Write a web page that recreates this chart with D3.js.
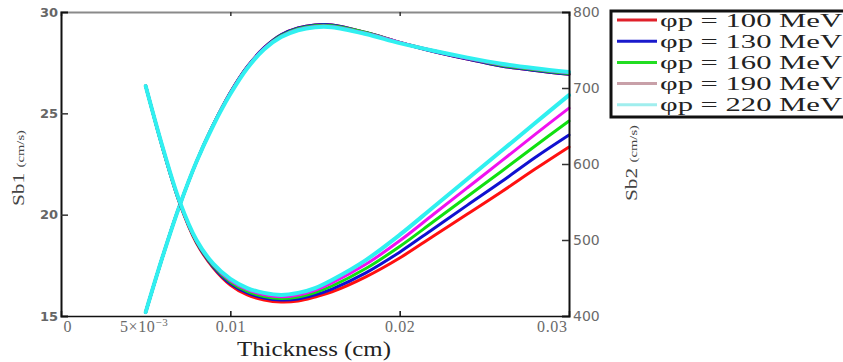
<!DOCTYPE html>
<html>
<head>
<meta charset="utf-8">
<script src="https://cdn.jsdelivr.net/npm/d3@7"></script>
<style>
  body { margin: 0; background: #fff; }
  svg { display: block; }
</style>
</head>
<body>
<div id="chart"></div>
<script>
// thickness grid (cm)
const thickness = [0.005, 0.006, 0.007, 0.008, 0.009, 0.010, 0.011, 0.012, 0.013, 0.014,
  0.015, 0.016, 0.018, 0.020, 0.022, 0.024, 0.026, 0.028, 0.030];

const energies = [100, 130, 160, 190, 220];
const colors = ['#ff1010', '#1010d0', '#10e010', '#f010f0', '#30f0f0'];
const legendColors = ['#e0202a', '#1a1acc', '#22dd22', '#c8a0a8', '#a0eeee'];

// Sb1 (left axis, cm/s)
const sb1_100 = [26.35, 23.29, 20.58, 18.60, 17.37, 16.53, 16.04, 15.79, 15.69, 15.74, 15.94, 16.19, 16.93, 17.86, 18.95, 20.03, 21.12, 22.25, 23.34];
const sb1_130 = [26.35, 23.29, 20.60, 18.65, 17.42, 16.60, 16.14, 15.89, 15.79, 15.84, 16.04, 16.33, 17.13, 18.15, 19.31, 20.47, 21.62, 22.82, 23.93];
const sb1_160 = [26.35, 23.31, 20.63, 18.68, 17.47, 16.68, 16.21, 15.96, 15.86, 15.94, 16.16, 16.48, 17.34, 18.43, 19.66, 20.90, 22.13, 23.39, 24.62];
const sb1_190 = [26.35, 23.34, 20.65, 18.71, 17.52, 16.75, 16.30, 16.05, 15.95, 16.04, 16.27, 16.63, 17.55, 18.71, 20.02, 21.33, 22.64, 23.96, 25.26];
const sb1_220 = [26.35, 23.34, 20.67, 18.75, 17.57, 16.83, 16.38, 16.14, 16.04, 16.14, 16.38, 16.78, 17.76, 19.00, 20.38, 21.76, 23.14, 24.52, 25.90];

// Sb2 (right axis, cm/s)
const sb2_100 = [405, 478, 545, 603, 652, 694, 728, 753, 770, 779, 783, 783, 773, 760, 748, 738, 729, 723, 718];
const sb2_130 = [405, 478, 545, 603, 652, 694, 728, 753, 770, 779, 783, 783, 773, 760, 748, 738, 729, 723, 718];
const sb2_160 = [405, 478, 545, 603, 652, 693, 727, 752, 769, 778, 782, 782, 773, 760, 749, 739, 730, 724, 719];
const sb2_190 = [405, 478, 545, 603, 652, 693, 727, 752, 768, 777, 781, 781, 772, 760, 749, 739, 731, 725, 720];
const sb2_220 = [405, 478, 545, 603, 651, 692, 726, 751, 767, 776, 780, 780, 771, 759, 749, 740, 732, 726, 721];

const sb1Series = [sb1_100, sb1_130, sb1_160, sb1_190, sb1_220];
const sb2Series = [sb2_100, sb2_130, sb2_160, sb2_190, sb2_220];

const xTicks = [0, 0.005, 0.01, 0.02, 0.03];
const yLeftTicks = [15, 20, 25, 30];
const yRightTicks = [400, 500, 600, 700, 800];

const W = 843, H = 362;
const margin = { top: 12, right: 274, bottom: 46, left: 61 };

const svg = d3.select('#chart').append('svg')
  .attr('width', W)
  .attr('height', H);

const x = d3.scaleLinear().domain([0, 0.03]).range([margin.left, W - margin.right]);
const yL = d3.scaleLinear().domain([15, 30]).range([H - margin.bottom, margin.top]);
const yR = d3.scaleLinear().domain([400, 800]).range([H - margin.bottom, margin.top]);

// curves
const lineL = d3.line()
  .x((d, i) => x(thickness[i]))
  .y(d => yL(d))
  .curve(d3.curveCatmullRom.alpha(0.5));
const lineR = d3.line()
  .x((d, i) => x(thickness[i]))
  .y(d => yR(d))
  .curve(d3.curveCatmullRom.alpha(0.5));

const curves = svg.append('g').attr('fill', 'none').attr('stroke-linecap', 'round');
sb2Series.forEach((s, i) => {
  curves.append('path')
    .attr('d', lineR(s))
    .attr('stroke', colors[i])
    .attr('stroke-width', i === 4 ? 4 : 3);
});
sb1Series.forEach((s, i) => {
  curves.append('path')
    .attr('d', lineL(s))
    .attr('stroke', colors[i])
    .attr('stroke-width', i === 4 ? 4 : 3);
});

// top border
const topAxis = svg.append('g')
  .attr('transform', 'translate(0,' + margin.top + ')')
  .call(d3.axisTop(x).tickValues([0.01, 0.02]).tickSize(-4).tickFormat(''));
topAxis.select('.domain').attr('stroke', '#8a8a8a').attr('stroke-width', 2);
topAxis.selectAll('.tick line').attr('stroke', '#333').attr('stroke-width', 1.5);

// bottom axis
const fmtX = d => d === 0 ? '0' : (d === 0.005 ? '' : d3.format('.2f')(d));
const xAxis = svg.append('g')
  .attr('transform', 'translate(0,' + (H - margin.bottom) + ')')
  .call(d3.axisBottom(x).tickValues(xTicks).tickSize(-5).tickPadding(5).tickFormat(fmtX));
xAxis.select('.domain').attr('stroke', '#111').attr('stroke-width', 1.5);
xAxis.selectAll('.tick line')
  .attr('stroke', '#111').attr('stroke-width', 1.5)
  .attr('opacity', d => (d === 0 || d === 0.005 || d === 0.03) ? 0 : 1);
xAxis.selectAll('.tick text')
  .attr('font-family', '"Liberation Serif", serif')
  .attr('font-size', 16)
  .attr('letter-spacing', 0.6)
  .attr('fill', '#6a6a6a')
  .attr('text-anchor', d => d === 0 ? 'start' : (d === 0.03 ? 'end' : 'middle'))
  .attr('x', d => d === 0 ? 2 : (d === 0.03 ? -2 : 0));
// 5x10^-3 label with a real superscript
const sciTick = xAxis.selectAll('.tick').filter(d => d === 0.005).select('text')
  .attr('x', -2);
sciTick.append('tspan').text('5×10');
sciTick.append('tspan').attr('font-size', 11).attr('dy', -6).text('−3');

// left axis
const yAxisL = svg.append('g')
  .attr('transform', 'translate(' + margin.left + ',0)')
  .call(d3.axisLeft(yL).tickValues(yLeftTicks).tickSize(-7).tickPadding(3));
yAxisL.select('.domain').attr('stroke', '#111').attr('stroke-width', 2);
yAxisL.selectAll('.tick line').attr('stroke', '#333').attr('stroke-width', 1.5)
  .attr('opacity', d => (d === 15 || d === 30) ? 0 : 1);
yAxisL.selectAll('.tick text')
  .attr('font-family', '"DejaVu Sans", sans-serif')
  .attr('font-size', 13)
  .attr('font-weight', 'bold')
  .attr('fill', '#666');

// right axis
const yAxisR = svg.append('g')
  .attr('transform', 'translate(' + (W - margin.right) + ',0)')
  .call(d3.axisRight(yR).tickValues(yRightTicks).tickSize(-7).tickPadding(4));
yAxisR.select('.domain').attr('stroke', '#111').attr('stroke-width', 2);
yAxisR.selectAll('.tick line').attr('stroke', '#333').attr('stroke-width', 1.5)
  .attr('opacity', d => (d === 400 || d === 800) ? 0 : 1);
yAxisR.selectAll('.tick text')
  .attr('font-family', '"DejaVu Sans", sans-serif')
  .attr('font-size', 14)
  .attr('fill', '#6a6a6a');

svg.selectAll('.domain').attr('fill', 'none');

// axis titles
svg.append('text')
  .attr('x', 314)
  .attr('y', 356)
  .attr('text-anchor', 'middle')
  .attr('font-family', '"Liberation Serif", serif')
  .attr('font-size', 20)
  .attr('fill', '#222')
  .attr('textLength', 154)
  .attr('lengthAdjust', 'spacingAndGlyphs')
  .text('Thickness (cm)');

function yTitle(cx, cy, label) {
  const t = svg.append('text')
    .attr('transform', 'translate(' + cx + ',' + cy + ') rotate(-90)')
    .attr('text-anchor', 'middle')
    .attr('font-family', '"Liberation Serif", serif')
    .attr('fill', '#444')
    .attr('textLength', 76)
    .attr('lengthAdjust', 'spacingAndGlyphs');
  t.append('tspan').attr('font-size', 16).text(label + ' ');
  t.append('tspan').attr('font-size', 11).text('(cm/s)');
}
yTitle(24, 168, 'Sb1');
yTitle(637, 163, 'Sb2');

// legend
const legend = svg.append('g');
legend.append('rect')
  .attr('x', 611).attr('y', 11)
  .attr('width', 250).attr('height', 106)
  .attr('fill', '#fff')
  .attr('stroke', '#111')
  .attr('stroke-width', 3);
energies.forEach((e, i) => {
  const cy = 20 + i * 21.2;
  legend.append('line')
    .attr('x1', 617).attr('x2', 657)
    .attr('y1', cy).attr('y2', cy)
    .attr('stroke', legendColors[i])
    .attr('stroke-width', 3);
  legend.append('text')
    .attr('x', 660)
    .attr('y', cy + 6.5)
    .attr('font-family', '"Liberation Serif", serif')
    .attr('font-size', 19)
    .attr('fill', '#222')
    .attr('textLength', 182)
    .attr('lengthAdjust', 'spacingAndGlyphs')
    .text('φp = ' + e + ' MeV');
});
</script>
</body>
</html>
